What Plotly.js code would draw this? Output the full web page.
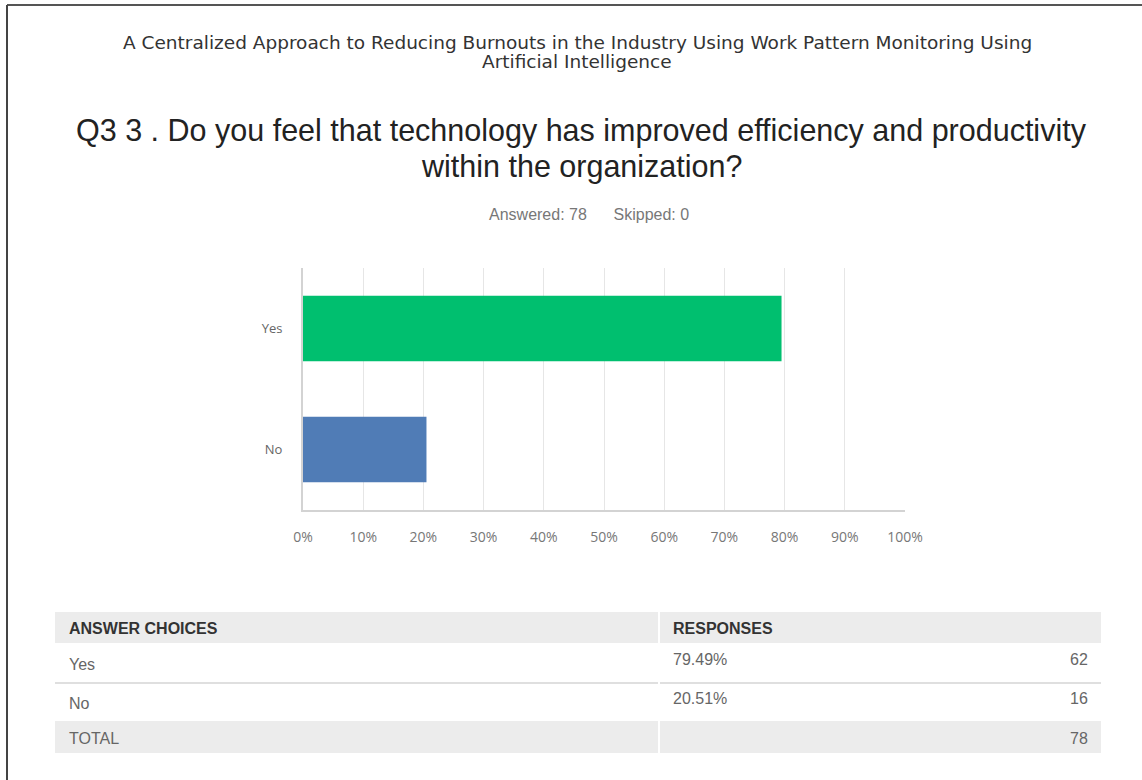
<!DOCTYPE html>
<html>
<head>
<meta charset="utf-8">
<script src="https://cdn.plot.ly/plotly-3.0.1.min.js"></script>
<style>html,body{margin:0;padding:0;background:#fff;}#chart{width:1142px;height:780px;}</style>
</head>
<body>
<div id="chart"></div>
<script>
// ---- data ----
const surveyTitleLines = ["A Centralized Approach to Reducing Burnouts in the Industry Using Work Pattern Monitoring Using", "Artificial Intelligence"];
const questionTitleLines = ["Q3 3 . Do you feel that technology has improved efficiency and productivity", "within the organization?"];
const answered = 78;
const skipped = 0;
const categories = ["Yes", "No"];
const percents = [79.49, 20.51];
const counts = [62, 16];
const barColors = ["#00bf6f", "#507cb6"];
const total = 78;
const xTicks = [0, 10, 20, 30, 40, 50, 60, 70, 80, 90, 100];
const tableHeaders = ["ANSWER CHOICES", "RESPONSES"];
const totalLabel = "TOTAL";

// ---- helpers: pixel -> paper ----
const W = 1142, H = 780;
const px = x => x / W;
const py = y => 1 - y / H;

const trace = {
  type: "bar",
  orientation: "h",
  y: categories,
  x: percents,
  width: 0.54,
  marker: { color: barColors, line: { width: 0 } },
  hoverinfo: "none"
};

const shapes = [];
const annotations = [];

// frame border (top & left)
shapes.push({ type: "line", xref: "paper", yref: "paper", x0: px(7), x1: px(1142), y0: py(5), y1: py(5), line: { color: "#555", width: 2 } });
shapes.push({ type: "line", xref: "paper", yref: "paper", x0: px(7), x1: px(7), y0: py(5), y1: py(780), line: { color: "#444", width: 2 } });

// titles
const subY = [42, 62];
surveyTitleLines.forEach((t, i) => {
  annotations.push({ xref: "paper", yref: "paper", x: px(577), y: py(subY[i]), text: t, showarrow: false, xanchor: "center", yanchor: "middle", font: { family: "DejaVu Sans", size: 18.5, color: "#333" } });
});
const qY = [131, 166];
questionTitleLines.forEach((t, i) => {
  annotations.push({ xref: "paper", yref: "paper", x: px(581), y: py(qY[i]), text: t, showarrow: false, xanchor: "center", yanchor: "middle", font: { family: "Liberation Sans, Arial", size: 30.5, color: "#222" } });
});
annotations.push({ xref: "paper", yref: "paper", x: px(589), y: py(214), text: "Answered: " + answered + "&nbsp;&nbsp;&nbsp;&nbsp;&nbsp;&nbsp;Skipped: " + skipped, showarrow: false, xanchor: "center", yanchor: "middle", font: { family: "Liberation Sans, Arial", size: 16, color: "#777" } });

// table
const tL = 55, tR = 1101, tMid = 659;
const headTop = 612, headBot = 643;
const rowTops = [645, 684];
const totTop = 721, totBot = 753;
const grey = "#ececec";
shapes.push({ type: "rect", xref: "paper", yref: "paper", x0: px(tL), x1: px(tMid - 1), y0: py(headTop), y1: py(headBot), fillcolor: grey, line: { width: 0 } });
shapes.push({ type: "rect", xref: "paper", yref: "paper", x0: px(tMid + 1), x1: px(tR), y0: py(headTop), y1: py(headBot), fillcolor: grey, line: { width: 0 } });
shapes.push({ type: "rect", xref: "paper", yref: "paper", x0: px(tL), x1: px(tMid - 1), y0: py(totTop), y1: py(totBot), fillcolor: grey, line: { width: 0 } });
shapes.push({ type: "rect", xref: "paper", yref: "paper", x0: px(tMid + 1), x1: px(tR), y0: py(totTop), y1: py(totBot), fillcolor: grey, line: { width: 0 } });
shapes.push({ type: "line", xref: "paper", yref: "paper", x0: px(tL), x1: px(tMid - 1), y0: py(683), y1: py(683), line: { color: "#d4d4d4", width: 1.5 } });
shapes.push({ type: "line", xref: "paper", yref: "paper", x0: px(tMid + 1), x1: px(tR), y0: py(683), y1: py(683), line: { color: "#d4d4d4", width: 1.5 } });

const headFont = { family: "Liberation Sans, Arial", size: 16, color: "#333" };
const cellFont = { family: "Liberation Sans, Arial", size: 16, color: "#666" };
annotations.push({ xref: "paper", yref: "paper", x: px(67), y: py(628), text: "<b>" + tableHeaders[0] + "</b>", showarrow: false, xanchor: "left", yanchor: "middle", font: headFont });
annotations.push({ xref: "paper", yref: "paper", x: px(671), y: py(628), text: "<b>" + tableHeaders[1] + "</b>", showarrow: false, xanchor: "left", yanchor: "middle", font: headFont });
categories.forEach((c, i) => {
  annotations.push({ xref: "paper", yref: "paper", x: px(67), y: py(rowTops[i] + 19), text: c, showarrow: false, xanchor: "left", yanchor: "middle", font: cellFont });
  annotations.push({ xref: "paper", yref: "paper", x: px(671), y: py(rowTops[i] + 14), text: percents[i].toFixed(2) + "%", showarrow: false, xanchor: "left", yanchor: "middle", font: cellFont });
  annotations.push({ xref: "paper", yref: "paper", x: px(1090), y: py(rowTops[i] + 14), text: String(counts[i]), showarrow: false, xanchor: "right", yanchor: "middle", font: cellFont });
});
annotations.push({ xref: "paper", yref: "paper", x: px(67), y: py(738), text: totalLabel, showarrow: false, xanchor: "left", yanchor: "middle", font: cellFont });
annotations.push({ xref: "paper", yref: "paper", x: px(1090), y: py(738), text: String(total), showarrow: false, xanchor: "right", yanchor: "middle", font: cellFont });

const layout = {
  width: W, height: H,
  margin: { l: 0, r: 0, t: 0, b: 0 },
  paper_bgcolor: "#fff",
  plot_bgcolor: "#fff",
  showlegend: false,
  xaxis: {
    domain: [px(303), px(905)],
    range: [0, 100],
    tickvals: xTicks,
    ticktext: xTicks.map(v => v + "%"),
    showgrid: true,
    gridcolor: "#e6e6e6",
    gridwidth: 1,
    zeroline: false,
    showline: true,
    linecolor: "#d3d3d3",
    linewidth: 2,
    ticks: "outside",
    ticklen: 13,
    tickcolor: "rgba(0,0,0,0)",
    tickfont: { family: "Open Sans, Liberation Sans", size: 14, color: "#777" },
    fixedrange: true
  },
  yaxis: {
    domain: [py(510), py(268)],
    type: "category",
    autorange: false,
    range: [1.5, -0.5],
    showgrid: false,
    zeroline: false,
    showline: true,
    linecolor: "#d3d3d3",
    linewidth: 2,
    ticks: "outside",
    ticklen: 16,
    tickcolor: "rgba(0,0,0,0)",
    tickfont: { family: "Open Sans, Liberation Sans", size: 13, color: "#666" },
    fixedrange: true
  },
  shapes: shapes,
  annotations: annotations
};

Plotly.newPlot("chart", [trace], layout, { displayModeBar: false, staticPlot: true });
</script>
</body>
</html>
